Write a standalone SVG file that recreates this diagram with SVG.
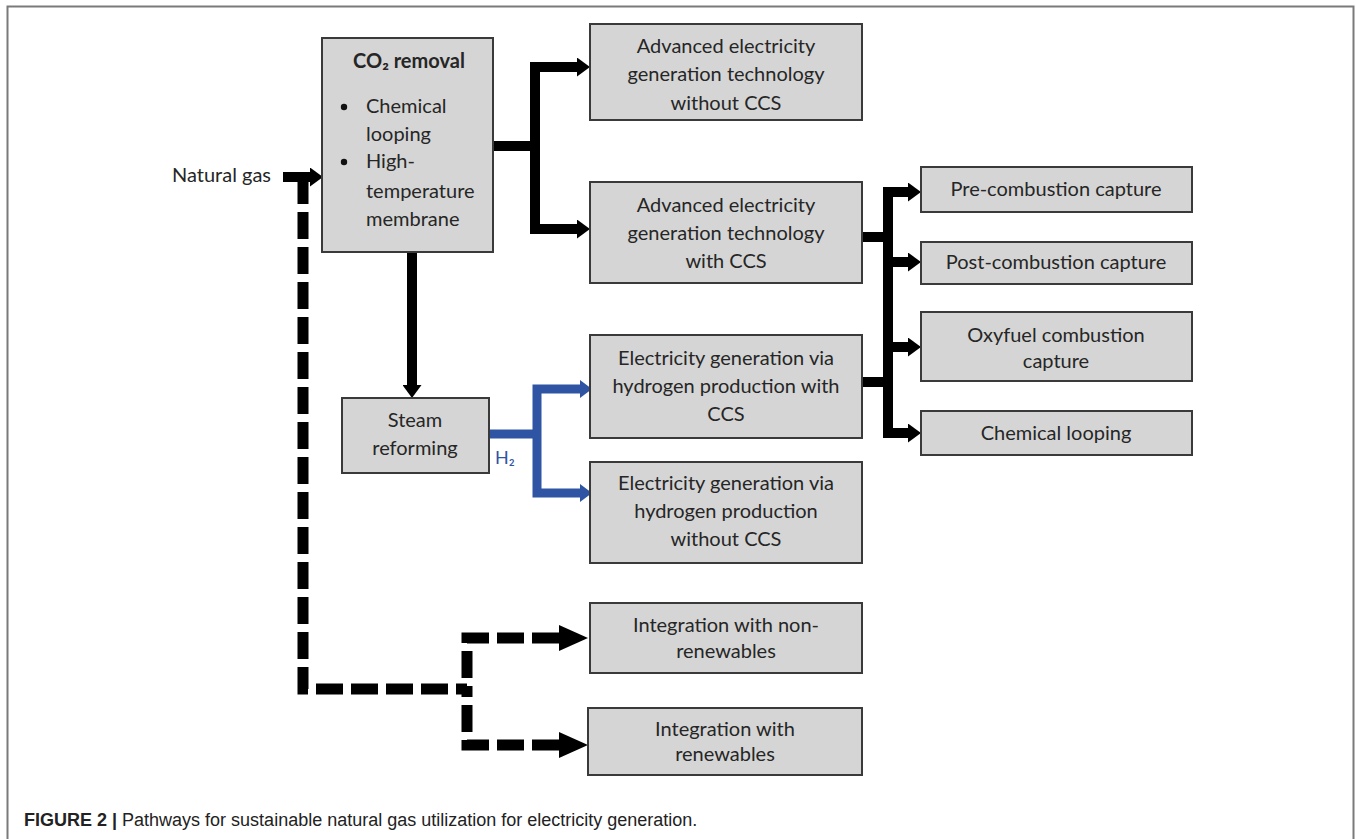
<svg xmlns="http://www.w3.org/2000/svg" width="1356" height="839" viewBox="0 0 1356 839">
<style>
.box{fill:#d5d5d5;stroke:#3a3a3a;stroke-width:2}
.t{font-family:Lato,"Liberation Sans",sans-serif;font-size:20px;fill:#262626;text-anchor:middle}
.tl{font-family:Lato,"Liberation Sans",sans-serif;font-size:20px;fill:#262626;text-anchor:start}
.b{font-weight:bold}
.c{fill:none;stroke:#000;stroke-width:10;stroke-linejoin:miter}
.blue{fill:none;stroke:#2f54a3;stroke-width:9;stroke-linejoin:miter}
.dash{fill:none;stroke:#000;stroke-width:11;stroke-dasharray:27 8}
.cap{font-family:"Liberation Sans",Arial,sans-serif;font-size:18px;fill:#222}
</style>
<defs>
<marker id="ah" markerUnits="userSpaceOnUse" markerWidth="13" markerHeight="19" refX="0" refY="9.5" orient="auto"><path d="M0,0 L13,9.5 L0,19 z" fill="#000"/></marker>
<marker id="ahb" markerUnits="userSpaceOnUse" markerWidth="12" markerHeight="18" refX="0" refY="9" orient="auto"><path d="M0,0 L12,9 L0,18 z" fill="#2f54a3"/></marker>
<marker id="ahd" markerUnits="userSpaceOnUse" markerWidth="29" markerHeight="26" refX="0" refY="13" orient="auto-start-reverse"><path d="M0,0 L29,13 L0,26 z" fill="#000"/></marker>
</defs>
<rect x="0" y="0" width="1356" height="839" fill="#fff"/>
<path d="M7.5,839 V6.5 H1353.5 V839" fill="none" stroke="#7a7a7a" stroke-width="2"/>

<g id="connectors">
<path class="c" d="M283,177 H310" marker-end="url(#ah)"/>
<path class="dash" d="M303,177 V689 H467"/>
<path class="dash" d="M559,638 H467 V689" marker-start="url(#ahd)"/>
<path class="dash" d="M559,745 H467 V689" marker-start="url(#ahd)"/>
<path class="c" d="M412,252 V385" marker-end="url(#ah)"/>
<path class="c" d="M492,146 H535 V67 H577" marker-end="url(#ah)"/>
<path class="c" d="M535,146 V229 H577" marker-end="url(#ah)"/>
<path class="c" d="M862,237 H888 V192 H908" marker-end="url(#ah)"/>
<path class="c" d="M888,237 V433 H908" marker-end="url(#ah)"/>
<path class="c" d="M888,262 H908" marker-end="url(#ah)"/>
<path class="c" d="M888,347 H908" marker-end="url(#ah)"/>
<path class="c" d="M862,382 H888"/>
<path class="blue" d="M489,434 H537"/>
<path class="blue" d="M537,434 V389 H580" marker-end="url(#ahb)"/>
<path class="blue" d="M537,434 V493 H580" marker-end="url(#ahb)"/>
<text x="495" y="464" font-family="Lato,'Liberation Sans',sans-serif" font-size="18" fill="#2f54a3">H₂</text>
</g>

<g id="natural-gas"><text class="tl" x="172" y="182">Natural gas</text></g>

<g id="co2-removal">
<rect class="box" x="322" y="38" width="171" height="214"/>
<text class="t b" x="409" y="68">CO₂ removal</text>
<circle cx="344" cy="107" r="3.2" fill="#111"/>
<circle cx="344" cy="162" r="3.2" fill="#111"/>
<text class="tl" x="366" y="113">Chemical</text>
<text class="tl" x="366" y="141">looping</text>
<text class="tl" x="366" y="168">High-</text>
<text class="tl" x="366" y="198">temperature</text>
<text class="tl" x="366" y="226">membrane</text>
</g>

<g id="steam-reforming">
<rect class="box" x="342" y="398" width="147" height="75"/>
<text class="t" x="415" y="427">Steam</text>
<text class="t" x="415" y="455">reforming</text>
</g>

<g id="adv-without-ccs">
<rect class="box" x="590" y="24" width="272" height="96"/>
<text class="t" x="726" y="53">Advanced electricity</text>
<text class="t" x="726" y="81">generation technology</text>
<text class="t" x="726" y="110">without CCS</text>
</g>

<g id="adv-with-ccs">
<rect class="box" x="590" y="182" width="272" height="101"/>
<text class="t" x="726" y="212">Advanced electricity</text>
<text class="t" x="726" y="240">generation technology</text>
<text class="t" x="726" y="268">with CCS</text>
</g>

<g id="h2-with-ccs">
<rect class="box" x="590" y="335" width="272" height="103"/>
<text class="t" x="726" y="365">Electricity generation via</text>
<text class="t" x="726" y="393">hydrogen production with</text>
<text class="t" x="726" y="421">CCS</text>
</g>

<g id="h2-without-ccs">
<rect class="box" x="590" y="462" width="272" height="101"/>
<text class="t" x="726" y="490">Electricity generation via</text>
<text class="t" x="726" y="518">hydrogen production</text>
<text class="t" x="726" y="546">without CCS</text>
</g>

<g id="integration-non-renewables">
<rect class="box" x="590" y="603" width="272" height="70"/>
<text class="t" x="726" y="632">Integration with non-</text>
<text class="t" x="726" y="658">renewables</text>
</g>

<g id="integration-renewables">
<rect class="box" x="588" y="708" width="274" height="67"/>
<text class="t" x="725" y="736">Integration with</text>
<text class="t" x="725" y="761">renewables</text>
</g>

<g id="pre-combustion">
<rect class="box" x="921" y="167" width="271" height="45"/>
<text class="t" x="1056" y="196">Pre-combustion capture</text>
</g>

<g id="post-combustion">
<rect class="box" x="921" y="242" width="271" height="42"/>
<text class="t" x="1056" y="269">Post-combustion capture</text>
</g>

<g id="oxyfuel">
<rect class="box" x="921" y="312" width="271" height="69"/>
<text class="t" x="1056" y="342">Oxyfuel combustion</text>
<text class="t" x="1056" y="368">capture</text>
</g>

<g id="chemical-looping">
<rect class="box" x="921" y="411" width="271" height="44"/>
<text class="t" x="1056" y="440">Chemical looping</text>
</g>

<g id="caption">
<text class="cap" x="24" y="826"><tspan font-weight="bold">FIGURE 2 |</tspan> Pathways for sustainable natural gas utilization for electricity generation.</text>
</g>
</svg>
